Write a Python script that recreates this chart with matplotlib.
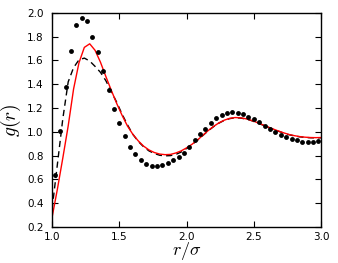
import numpy as np
import matplotlib
matplotlib.use("Agg")
import matplotlib.pyplot as plt

plt.rcParams['mathtext.fontset'] = 'cm'

# simulation points, r/sigma = 1.02 ... 2.98
r_sim = [1.02, 1.06, 1.10, 1.14, 1.18, 1.22, 1.26, 1.30, 1.34, 1.38,
         1.42, 1.46, 1.50, 1.54, 1.58, 1.62, 1.66, 1.70, 1.74, 1.78,
         1.82, 1.86, 1.90, 1.94, 1.98, 2.02, 2.06, 2.10, 2.14, 2.18,
         2.22, 2.26, 2.30, 2.34, 2.38, 2.42, 2.46, 2.50, 2.54, 2.58,
         2.62, 2.66, 2.70, 2.74, 2.78, 2.82, 2.86, 2.90, 2.94, 2.98]
g_sim = [0.64, 1.01, 1.38, 1.68, 1.90, 1.96, 1.93, 1.80, 1.67, 1.51,
         1.35, 1.195, 1.075, 0.965, 0.875, 0.81, 0.763, 0.73, 0.714, 0.712,
         0.718, 0.737, 0.763, 0.79, 0.824, 0.875, 0.93, 0.979, 1.021, 1.071,
         1.113, 1.141, 1.158, 1.164, 1.16, 1.147, 1.128, 1.108, 1.083, 1.05,
         1.022, 0.998, 0.976, 0.956, 0.939, 0.928, 0.917, 0.912, 0.914, 0.92]

# theory curves, r/sigma = 1.00 ... 3.00
r_th = [1.00, 1.04, 1.08, 1.12, 1.16, 1.20, 1.24, 1.28, 1.32, 1.36,
        1.40, 1.44, 1.48, 1.52, 1.56, 1.60, 1.64, 1.68, 1.72, 1.76,
        1.80, 1.84, 1.88, 1.92, 1.96, 2.00, 2.04, 2.08, 2.12, 2.16,
        2.20, 2.24, 2.28, 2.32, 2.36, 2.40, 2.44, 2.48, 2.52, 2.56,
        2.60, 2.64, 2.68, 2.72, 2.76, 2.80, 2.84, 2.88, 2.92, 2.96, 3.00]
g_red = [0.28, 0.52, 0.78, 1.05, 1.36, 1.58, 1.71, 1.74, 1.685, 1.585,
         1.465, 1.35, 1.24, 1.14, 1.05, 0.98, 0.925, 0.88, 0.848, 0.826,
         0.813, 0.808, 0.81, 0.822, 0.84, 0.865, 0.895, 0.93, 0.97, 1.01,
         1.045, 1.075, 1.098, 1.113, 1.12, 1.118, 1.11, 1.097, 1.08, 1.062,
         1.043, 1.025, 1.008, 0.992, 0.978, 0.968, 0.96, 0.955, 0.952, 0.951, 0.952]
g_dash = [0.35, 0.73, 1.11, 1.42, 1.54, 1.605, 1.62, 1.595, 1.55, 1.50,
          1.43, 1.34, 1.25, 1.15, 1.06, 0.98, 0.92, 0.875, 0.84, 0.818,
          0.803, 0.798, 0.80, 0.81, 0.83, 0.86, 0.892, 0.928, 0.968, 1.008,
          1.043, 1.073, 1.096, 1.111, 1.118, 1.116, 1.108, 1.095, 1.078, 1.06,
          1.041, 1.023, 1.006, 0.99, 0.976, 0.966, 0.958, 0.953, 0.95, 0.949, 0.95]

fig = plt.figure(figsize=(3.38, 2.63), dpi=100)
ax = fig.add_axes([0.154, 0.137, 0.796, 0.814])

ax.plot(r_th, g_dash, color='black', linestyle='--', linewidth=1.0, dashes=(4.5, 3))
ax.plot(r_th, g_red, color='red', linewidth=1.0)
ax.plot(r_sim, g_sim, 'o', color='black', markersize=3.5, markeredgewidth=0)

ax.set_xlim(1.0, 3.0)
ax.set_ylim(0.2, 2.0)
ax.set_xticks([1.0, 1.5, 2.0, 2.5, 3.0])
ax.set_yticks(np.arange(0.2, 2.01, 0.2))
ax.tick_params(direction='in', top=True, right=True, length=4, width=0.8, labelsize=7.5)
ax.tick_params(axis='x', pad=3.5)
ax.tick_params(axis='y', pad=6)
for s in ax.spines.values():
    s.set_linewidth(1.0)

ax.set_xlabel(r'$r/\sigma$', fontsize=13, labelpad=-1)
ax.set_ylabel(r'$g(r)$', fontsize=14, labelpad=3)

fig.savefig('out.png', dpi=100)
